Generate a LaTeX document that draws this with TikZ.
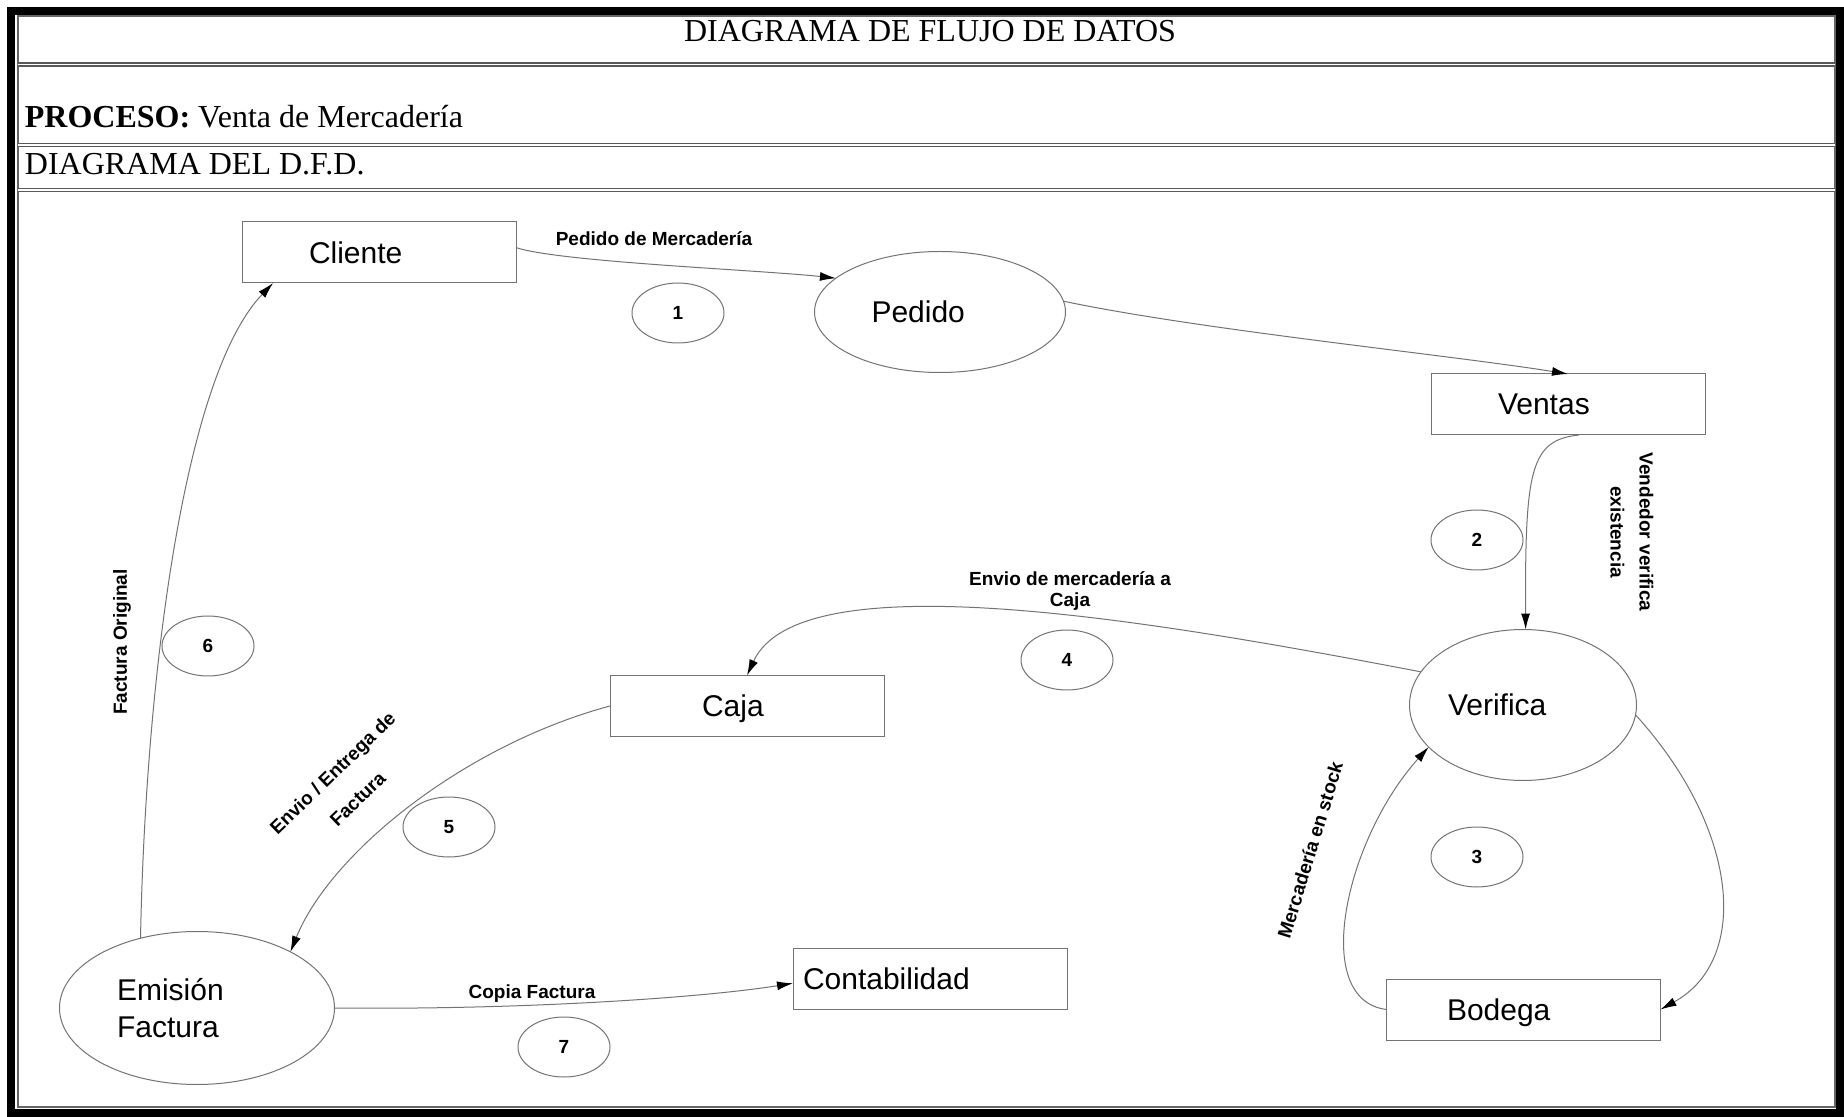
\documentclass[tikz,border=0pt]{standalone}
\usepackage{fontspec}
\setmainfont{Liberation Serif}
\newfontfamily\arial{Liberation Sans}
\usetikzlibrary{shapes.geometric,arrows.meta}

\begin{document}
\begin{tikzpicture}[x=0.5pt, y=-0.5pt,
  store/.style={draw=black!55, line width=0.5pt, minimum width=137pt, minimum height=30.5pt,
    inner sep=0pt, outer sep=0pt, align=left, text depth=0pt, font=\arial\fontsize{15}{18.5}\selectfont},
  proc/.style={ellipse, draw=black!55, line width=0.5pt, inner sep=0pt, outer sep=0pt,
    align=left, font=\arial\fontsize{15}{18.5}\selectfont},
  num/.style={ellipse, draw=black!55, line width=0.5pt, minimum width=46pt, minimum height=30pt,
    inner sep=0pt, font=\arial\bfseries\fontsize{9.5}{11}\selectfont},
  lbl/.style={inner sep=0pt, align=center, font=\arial\bfseries\fontsize{9.5}{10.5}\selectfont},
  flow/.style={draw=black!55, line width=0.5pt, -{Latex[length=8pt,width=4.5pt,color=black]}},
  sepline/.style={draw=black!65, line width=0.8pt, double, double distance=0.8pt}]
  \useasboundingbox (0,0) rectangle (1844,1117);

  % frame and header
  \draw[line width=4pt] (11,11) rectangle (1840,1113);
  \draw[black!60, line width=0.6pt] (18,16) rectangle (1835,1107);
  \draw[sepline] (18,64.5) -- (1835,64.5);
  \draw[sepline] (18,145) -- (1835,145);
  \draw[sepline] (18,190) -- (1835,190);
  \node[anchor=base, inner sep=0pt, font=\fontsize{16}{19}\selectfont] (title) at (930,42) {DIAGRAMA DE FLUJO DE DATOS};
  \node[anchor=base west, inner sep=0pt, font=\fontsize{16}{19}\selectfont] (proceso) at (24.5,128) {\textbf{PROCESO:} Venta de Mercadería};
  \node[anchor=base west, inner sep=0pt, font=\fontsize{16}{19}\selectfont] (dfd) at (24.5,175) {DIAGRAMA DEL D.F.D.};

  % entities and processes
  \node[store, text width=70.5pt] (cliente) at (379.5,252.5) {Cliente};
  \node[store, text width=70pt] (ventas) at (1568,404.5) {Ventas};
  \node[store, text width=45pt] (caja) at (747,706) {Caja};
  \node[store, text width=76.5pt] (bodega) at (1523.5,1009.5) {Bodega};
  \node[store, text width=127pt] (contab) at (930,978.5) {Contabilidad};
  \node[proc, minimum width=125.5pt, minimum height=60.5pt, text width=68.5pt] (pedido) at (940,312) {Pedido};
  \node[proc, minimum width=113.5pt, minimum height=75.5pt, text width=75pt] (verifica) at (1523,705) {Verifica};
  \node[proc, minimum width=137.5pt, minimum height=76.5pt, text width=80pt] (emision) at (197,1008) {Emisión\\Factura};

  % flow numbers
  \node[num] (n1) at (678,313) {1};
  \node[num] (n2) at (1477,540) {2};
  \node[num] (n3) at (1477,857) {3};
  \node[num] (n4) at (1067,660) {4};
  \node[num] (n5) at (449,827) {5};
  \node[num] (n6) at (208,646) {6};
  \node[num] (n7) at (564,1047) {7};

  % flows
  \draw[flow] (cliente.2) .. controls (560,262) and (760,270) .. (pedido.162);
  \draw[flow] (pedido.5) .. controls (1200,330) and (1450,355) .. (ventas.north);
  \draw[flow] (ventas.-70) .. controls (1530,440) and (1525,470) .. (verifica.88);
  \draw[flow] (verifica.-5) .. controls (1740,830) and (1750,960) .. (bodega.east);
  \draw[flow] (bodega.west) .. controls (1310,1000) and (1345,840) .. (verifica.204);
  \draw[flow] (verifica.162) .. controls (1150,620) and (800,560) .. (caja.north);
  \draw[flow] (caja.west) .. controls (465,745) and (331,852) .. (emision.31);
  \draw[flow] (emision.129) .. controls (145,700) and (180,380) .. (cliente.196);
  \draw[flow] (emision.east) .. controls (520,1010) and (700,998) .. (contab.182);

  % flow labels
  \node[lbl] (l1) at (654,239) {Pedido de Mercadería};
  \node[lbl, rotate=-90, font=\arial\bfseries\fontsize{9.5}{14.5}\selectfont] (l2) at (1632,532) {Vendedor verifica\\existencia};
  \node[lbl, rotate=73] (l3) at (1310,850) {Mercadería en stock};
  \node[lbl] (l4) at (1070,591) {Envio de mercadería a\\Caja};
  \node[lbl, rotate=44, font=\arial\bfseries\fontsize{9.5}{18}\selectfont] (l5) at (345,786) {Envio / Entrega de\\Factura};
  \node[lbl, rotate=90] (l6) at (122,642) {Factura Original};
  \node[lbl] (l7) at (532,994) {Copia Factura};
\end{tikzpicture}
\end{document}
